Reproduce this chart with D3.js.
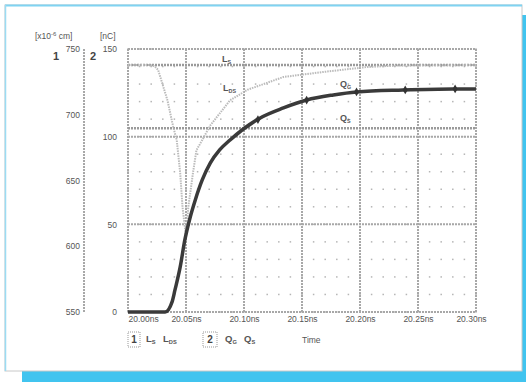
<!DOCTYPE html>
<html><head><meta charset="utf-8">
<script src="https://cdn.jsdelivr.net/npm/d3@7"></script>
<style>body{margin:0;background:#fff}svg{display:block}text{font-family:"Liberation Sans",Arial,sans-serif}</style>
</head><body>
<script>
// ---- data ----
const timeTicks = [20.00, 20.05, 20.10, 20.15, 20.20, 20.25, 20.30];
const timeLabels = ["20.00ns","20.05ns","20.10ns","20.15ns","20.20ns","20.25ns","20.30ns"];
const axis1Ticks = [550, 600, 650, 700, 750];
const axis2Ticks = [0, 50, 100, 150];

const lsTime  = [20.000, 20.300];
const lsValue = [737.8, 737.8];

const ldsTime  = [20.000,20.019,20.023,20.026,20.030,20.034,20.039,20.042,20.045,20.047,20.050,20.052,20.056,20.059,20.064,20.071,20.088,20.103,20.134,20.168,20.206,20.234,20.300];
const ldsValue = [737.8,737.8,737.0,734.0,722.6,711.0,690.7,680.8,655.7,629.8,607.0,629.8,655.7,673.0,680.8,692.0,711.0,719.0,728.7,732.5,736.3,737.5,737.8];

const qgTime  = [20.000,20.032,20.038,20.0405,20.045,20.049,20.053,20.058,20.064,20.071,20.079,20.088,20.114,20.134,20.154,20.177,20.197,20.237,20.280,20.300];
const qgValue = [0,0,5.8,12.6,25.7,41.1,52.5,63.9,75.3,85.0,92.4,98.1,110.7,116.4,120.9,123.8,125.5,126.6,127.2,127.2];

const qsTime  = [20.000, 20.300];
const qsValue = [104.8, 104.8];

const qgMarkerTimes = [20.112, 20.154, 20.197, 20.239, 20.282];

// ---- drawing ----
const W = 526, H = 382;
const svg = d3.select("body").append("svg").attr("width", W).attr("height", H);

// frame with shadow
svg.append("rect").attr("x",22).attr("y",15).attr("width",504).attr("height",367).attr("fill","#41c4ef");
svg.append("rect").attr("x",5).attr("y",5).attr("width",517).attr("height",366).attr("fill","#fff")
  .attr("stroke","#c8c8c8").attr("stroke-width",1);
svg.append("line").attr("x1",5).attr("x2",522).attr("y1",5.5).attr("y2",5.5).attr("stroke","#7fd3f2").attr("stroke-width",2);
svg.append("line").attr("x1",5.5).attr("x2",5.5).attr("y1",5).attr("y2",371).attr("stroke","#9bdcf3").attr("stroke-width",1.5);

const x = d3.scaleLinear().domain([20.00, 20.30]).range([128, 476]);
const y1 = d3.scaleLinear().domain([550, 750]).range([312, 49]);
const y2 = d3.scaleLinear().domain([0, 150]).range([312, 49]);

const grid = svg.append("g");
// dot texture
const subX = d3.range(20.00, 20.30001, 0.01);
const subY = d3.range(0, 150.001, 10);
subX.forEach(t => {
  subY.forEach(v => {
    grid.append("rect").attr("x", x(t)-0.75).attr("y", y2(v)-0.75).attr("width",1.5).attr("height",1.5).attr("fill","#b5b5b5");
  });
});
// grid lines
timeTicks.forEach(t => {
  grid.append("line").attr("x1",x(t)).attr("x2",x(t)).attr("y1",y2(150)).attr("y2",y2(0))
    .attr("stroke","#a8a8a8").attr("stroke-width",2).attr("stroke-dasharray","2,1");
});
axis2Ticks.forEach(v => {
  grid.append("line").attr("x1",x(20.00)).attr("x2",x(20.30)).attr("y1",y2(v)).attr("y2",y2(v))
    .attr("stroke","#a8a8a8").attr("stroke-width",2).attr("stroke-dasharray","2,1");
});

// axis 1 vertical line
svg.append("line").attr("x1",84).attr("x2",84).attr("y1",y1(750)).attr("y2",y1(550))
  .attr("stroke","#a8a8a8").attr("stroke-width",2).attr("stroke-dasharray","2,1");

// axes labels via d3 axes
const ax1 = d3.axisLeft(y1).tickValues(axis1Ticks).tickSize(0).tickPadding(0);
const g1 = svg.append("g").attr("transform","translate(80,0)").call(ax1);
const ax2 = d3.axisLeft(y2).tickValues(axis2Ticks).tickSize(0).tickPadding(0);
const g2 = svg.append("g").attr("transform","translate(117,0)").call(ax2);
[g1,g2].forEach(g => {
  g.select(".domain").remove();
  g.attr("font-family",null);
  g.selectAll("text").attr("font-size",8.5).attr("fill","#555").attr("dy","0.32em");
});

const axx = d3.axisBottom(x).tickValues(timeTicks).tickFormat((d,i)=>timeLabels[i]).tickSize(0).tickPadding(0);
const gx = svg.append("g").attr("transform","translate(0,316)").call(axx);
gx.select(".domain").remove();
gx.attr("font-family",null);
gx.selectAll("text").attr("font-size",8.5).attr("fill","#555").attr("dy","0.71em")
  .attr("text-anchor",(d,i)=> i===0 ? "start" : "middle")
  .attr("dx",(d,i)=> i===timeTicks.length-1 ? -5 : 0);

// traces
const line1 = d3.line().x(d=>x(d[0])).y(d=>y1(d[1]));
const line2 = d3.line().x(d=>x(d[0])).y(d=>y2(d[1]));
const zip = (a,b) => a.map((t,i)=>[t,b[i]]);

svg.append("path").attr("d", line1(zip(lsTime, lsValue))).attr("fill","none")
  .attr("stroke","#9a9a9a").attr("stroke-width",2.5).attr("stroke-dasharray","2,1");
svg.append("path").attr("d", line2(zip(qsTime, qsValue))).attr("fill","none")
  .attr("stroke","#9a9a9a").attr("stroke-width",2.5).attr("stroke-dasharray","2,1");
svg.append("path").attr("d", line1(zip(ldsTime, ldsValue))).attr("fill","none")
  .attr("stroke","#bbbbbb").attr("stroke-width",2).attr("stroke-dasharray","1.5,1")
  .attr("stroke-linejoin","round");
svg.append("path").attr("d", d3.line().curve(d3.curveMonotoneX).x(d=>x(d[0])).y(d=>y2(d[1]))(zip(qgTime, qgValue)))
  .attr("fill","none").attr("stroke","#3a3a3a").attr("stroke-width",3.5).attr("stroke-linejoin","round");

const qgInterp = t => {
  for (let i=1;i<qgTime.length;i++){ if (t<=qgTime[i]) { const f=(t-qgTime[i-1])/(qgTime[i]-qgTime[i-1]); return qgValue[i-1]+f*(qgValue[i]-qgValue[i-1]); } }
  return qgValue[qgValue.length-1];
};
qgMarkerTimes.forEach(t => {
  svg.append("path").attr("d", d3.symbol(d3.symbolDiamond, 22)())
    .attr("transform",`translate(${x(t)},${y2(qgInterp(t))})`).attr("fill","#333");
});

// trace labels
function subLabel(px, py, main, sub, size) {
  const t = svg.append("text").attr("x",px).attr("y",py).attr("font-size",size).attr("fill","#555").attr("font-weight","bold");
  t.append("tspan").text(main);
  t.append("tspan").attr("font-size",size*0.6).attr("dy",2).text(sub);
  return t;
}
subLabel(222, 62, "L", "S", 9);
subLabel(223, 91, "L", "DS", 9);
subLabel(340, 87, "Q", "G", 9);
subLabel(340, 121, "Q", "S", 9);

// axis headers
const u1 = svg.append("text").attr("x",35).attr("y",39).attr("font-size",8.5).attr("fill","#555");
u1.append("tspan").text("[x10");
u1.append("tspan").attr("dy",-3).attr("font-size",6).text("-6");
u1.append("tspan").attr("dy",3).text(" cm]");
svg.append("text").attr("x",100).attr("y",39).attr("font-size",8.5).attr("fill","#555").text("[nC]");
svg.append("text").attr("x",53).attr("y",60).attr("font-size",11).attr("font-weight","bold").attr("fill","#444").text("1");
svg.append("text").attr("x",90).attr("y",60).attr("font-size",11).attr("font-weight","bold").attr("fill","#444").text("2");

// bottom legend
svg.append("rect").attr("x",128).attr("y",332).attr("width",12).attr("height",15).attr("fill","none")
  .attr("stroke","#999").attr("stroke-dasharray","1,1");
svg.append("text").attr("x",134).attr("y",343).attr("text-anchor","middle").attr("font-size",10).attr("font-weight","bold").attr("fill","#444").text("1");
subLabel(146, 342, "L", "S", 9.5).attr("fill","#555");
subLabel(163, 342, "L", "DS", 9.5).attr("fill","#555");
svg.append("rect").attr("x",203).attr("y",332).attr("width",14).attr("height",15).attr("fill","none")
  .attr("stroke","#999").attr("stroke-dasharray","1,1");
svg.append("text").attr("x",210).attr("y",343).attr("text-anchor","middle").attr("font-size",10).attr("font-weight","bold").attr("fill","#444").text("2");
subLabel(225, 342, "Q", "G", 9.5).attr("fill","#555");
subLabel(244, 342, "Q", "S", 9.5).attr("fill","#555");
svg.append("text").attr("x",302).attr("y",343).attr("font-size",8.5).attr("fill","#555").text("Time");
</script>
</body></html>
